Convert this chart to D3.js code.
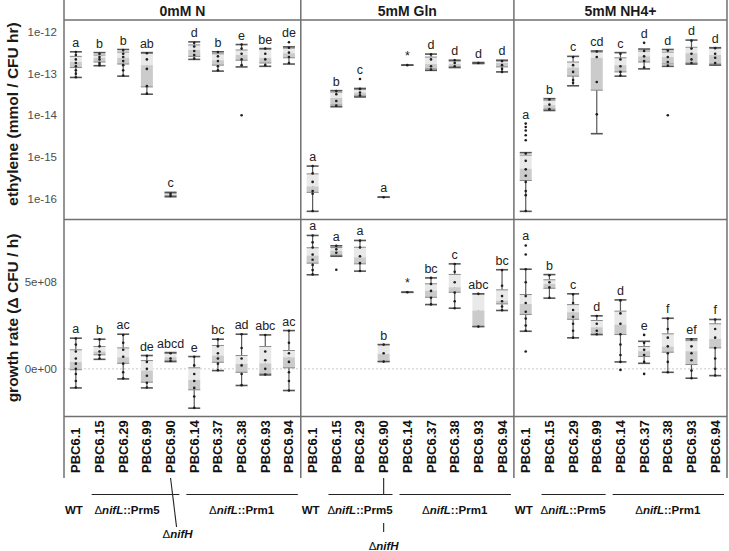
<!DOCTYPE html>
<html><head><meta charset="utf-8">
<script src="https://cdn.jsdelivr.net/npm/d3@7"></script>
<style>body{margin:0;background:#fff} svg{display:block} text{font-family:"Liberation Sans",Arial,sans-serif}</style>
</head><body><svg id="c" width="729" height="551"></svg>
<script>
// ---------------- DATA ----------------
const panels = ["0mM N", "5mM Gln", "5mM NH4+"];
const strains0N  = ["PBC6.1","PBC6.15","PBC6.29","PBC6.99","PBC6.90","PBC6.14","PBC6.37","PBC6.38","PBC6.93","PBC6.94"];
const strainsGln = ["PBC6.1","PBC6.15","PBC6.29","PBC6.90","PBC6.14","PBC6.37","PBC6.38","PBC6.93","PBC6.94"];
const strainsNH4 = ["PBC6.1","PBC6.15","PBC6.29","PBC6.99","PBC6.14","PBC6.37","PBC6.38","PBC6.93","PBC6.94"];

// ethylene boxes: [lower whisker, q1, median, q3, upper whisker]  (mmol / CFU hr)
const eth0N = [
 [8.1e-14,1.4e-13,1.9e-13,2.6e-13,3.35e-13],[1.55e-13,1.9e-13,2.4e-13,2.8e-13,3.2e-13],
 [8.7e-14,1.7e-13,2.4e-13,3.3e-13,3.8e-13],[3.2e-14,4.8e-14,1.6e-13,3.1e-13,3.2e-13],
 [1.1e-16,1.15e-16,1.25e-16,1.35e-16,1.4e-16],[2.2e-13,2.6e-13,3.7e-13,4.9e-13,5.8e-13],
 [1.15e-13,1.6e-13,2.1e-13,3.0e-13,3.35e-13],[1.45e-13,2.1e-13,2.8e-13,3.7e-13,5.0e-13],
 [1.5e-13,1.8e-13,2.4e-13,3.9e-13,4.0e-13],[1.7e-13,2.4e-13,3.1e-13,4.1e-13,4.4e-13]];
const ethGln = [
 [4.9e-17,1.4e-16,1.95e-16,3.9e-16,6.0e-16],[1.6e-14,1.75e-14,2.6e-14,3.6e-14,3.9e-14],
 [2.75e-14,2.9e-14,3.5e-14,4.2e-14,4.4e-14],[1.07e-16,1.07e-16,1.07e-16,1.07e-16,1.07e-16],
 [1.6e-13,1.6e-13,1.6e-13,1.6e-13,1.6e-13],[1.2e-13,1.3e-13,1.7e-13,2.5e-13,2.95e-13],
 [1.4e-13,1.45e-13,1.7e-13,2.0e-13,2.1e-13],[1.75e-13,1.78e-13,1.8e-13,1.82e-13,1.85e-13],
 [1.1e-13,1.45e-13,1.8e-13,2.0e-13,2.1e-13]];
const ethNH4 = [
 [4.9e-17,2.7e-16,5.2e-16,1.1e-15,1.26e-15],[1.3e-14,1.4e-14,1.75e-14,2.3e-14,2.5e-14],
 [5.1e-14,8.7e-14,1.4e-13,1.9e-13,2.6e-13],[3.6e-15,4.0e-14,2.4e-13,3.3e-13,3.5e-13],
 [8.7e-14,1.1e-13,1.6e-13,2.4e-13,3.2e-13],[1.3e-13,1.9e-13,2.6e-13,3.5e-13,3.9e-13],
 [1.5e-13,1.7e-13,2.5e-13,3.3e-13,3.8e-13],[1.7e-13,1.8e-13,3.1e-13,4.3e-13,6.4e-13],
 [1.6e-13,1.7e-13,2.8e-13,4.1e-13,4.2e-13]];

// ethylene individual points
const ethPts0N = [
 [3.3e-13,2.8e-13,2.2e-13,1.8e-13,1.5e-13,1.2e-13,1.0e-13,8.2e-14],[3.0e-13,2.5e-13,2.2e-13,1.8e-13,1.6e-13],
 [3.7e-13,3.0e-13,2.5e-13,2.0e-13,1.6e-13,1.2e-13,9e-14],[3.1e-13,2.2e-13,1.3e-13,5e-14,3.3e-14],
 [1.3e-16,1.15e-16],[5.5e-13,4.5e-13,3.5e-13,2.8e-13,2.3e-13],
 [3.3e-13,2.6e-13,2.0e-13,1.5e-13,1.2e-13],[5.0e-13,4.0e-13,3.0e-13,2.2e-13,1.6e-13,1e-14],
 [4.0e-13,3.0e-13,2.2e-13,1.6e-13],[5.7e-13,4.2e-13,3.2e-13,2.5e-13,1.8e-13]];
const ethPtsGln = [
 [6e-16,4e-16,2.5e-16,1.5e-16,1.3e-16,5e-17],[3.8e-14,3.2e-14,2.2e-14,1.7e-14],
 [7.4e-14,4.3e-14,3.5e-14,3.0e-14],[1.07e-16],[1.6e-13],
 [2.9e-13,2.2e-13,1.5e-13,1.25e-13],[2.1e-13,1.8e-13,1.5e-13],[1.8e-13],
 [2.0e-13,1.6e-13,1.3e-13,1.1e-13]];
const ethPtsNH4 = [
 [6.3e-15,5.2e-15,4.3e-15,3.3e-15,2.5e-15,1.2e-15,8e-16,5e-16,3.5e-16,2.5e-16,1.5e-16,1.2e-16,5e-17],
 [2.4e-14,1.8e-14,1.4e-14],[2.5e-13,1.6e-13,1.1e-13,7e-14,6e-14],[3.4e-13,2.5e-13,6.3e-14,1.05e-14],
 [3.0e-13,2.2e-13,1.5e-13,1.1e-13,9e-14],[5.5e-13,3.5e-13,2.6e-13,2.0e-13,1.4e-13],
 [3.6e-13,2.5e-13,1.9e-13,1.55e-13,1e-14],[6.2e-13,4.0e-13,3.0e-13,2.2e-13,1.8e-13],
 [4.1e-13,3.0e-13,2.4e-13,1.8e-13]];

// growth rate boxes (CFU / h): [lower, q1, median, q3, upper]
const gr0N = [
 [-1.1e8,-0.05e8,0.4e8,1.1e8,1.77e8],[0.55e8,0.81e8,1.0e8,1.29e8,1.71e8],
 [-0.58e8,0.32e8,0.67e8,1.21e8,2.0e8],[-1.1e8,-0.77e8,-0.1e8,0.48e8,0.77e8],
 [0.42e8,0.45e8,0.67e8,0.9e8,0.94e8],[-2.27e8,-1.21e8,-0.64e8,0.06e8,0.71e8],
 [-0.1e8,0.38e8,0.77e8,1.35e8,1.71e8],[-0.96e8,-0.2e8,0.29e8,0.77e8,2.0e8],
 [-0.35e8,-0.29e8,0.32e8,1.29e8,1.96e8],[-1.25e8,0.06e8,0.67e8,1.06e8,2.21e8]];
const grGln = [
 [5.43e8,6.1e8,6.54e8,6.99e8,7.7e8],[6.5e8,6.56e8,6.83e8,7.0e8,7.1e8],
 [5.64e8,6.06e8,6.44e8,7.02e8,7.41e8],[0.42e8,0.42e8,0.87e8,1.4e8,1.4e8],
 [4.42e8,4.42e8,4.42e8,4.42e8,4.42e8],[3.71e8,4.13e8,4.52e8,4.91e8,5.25e8],
 [3.5e8,4.42e8,4.71e8,5.45e8,6.06e8],[2.44e8,2.44e8,3.37e8,4.33e8,4.33e8],
 [3.37e8,3.75e8,3.94e8,4.56e8,5.72e8]];
const grNH4 = [
 [2.17e8,3.14e8,3.75e8,4.29e8,5.75e8],[4.08e8,4.65e8,4.9e8,5.14e8,5.44e8],
 [1.79e8,2.86e8,3.27e8,3.71e8,4.33e8],[1.98e8,1.98e8,2.4e8,2.79e8,3.06e8],
 [0.4e8,1.98e8,2.56e8,3.33e8,3.98e8],[0.32e8,0.71e8,1.02e8,1.29e8,1.59e8],
 [-0.2e8,0.96e8,1.29e8,2.02e8,2.92e8],[-0.54e8,0.25e8,1.02e8,1.63e8,1.73e8],
 [-0.39e8,1.21e8,1.73e8,2.6e8,2.85e8]];

const grPts0N = [
 [1.75e8,1.4e8,1.0e8,0.6e8,0.3e8,0.0,-0.3e8,-0.7e8,-1.08e8],[1.7e8,1.3e8,1.0e8,0.8e8,0.6e8],
 [1.95e8,1.5e8,1.1e8,0.7e8,0.3e8,-0.2e8,-0.55e8],[0.75e8,0.4e8,0.0,-0.4e8,-0.8e8,-1.08e8],
 [0.9e8,0.6e8,0.45e8],[0.7e8,0.2e8,-0.3e8,-0.7e8,-1.1e8,-1.6e8,-2.25e8],
 [1.7e8,1.3e8,0.9e8,0.6e8,0.3e8,-0.08e8],[2.0e8,1.2e8,0.6e8,0.2e8,-0.3e8,-0.94e8],
 [1.95e8,1.0e8,0.5e8,0.0,-0.33e8],[2.2e8,1.5e8,0.9e8,0.4e8,-0.2e8,-0.7e8,-1.25e8]];
const grPtsGln = [
 [7.7e8,7.3e8,7.0e8,6.6e8,6.3e8,6.0e8,5.7e8,5.45e8],[7.1e8,6.9e8,6.7e8,5.72e8],
 [7.4e8,7.0e8,6.5e8,6.1e8,5.65e8],[1.4e8,0.9e8,0.42e8],[4.42e8],
 [5.25e8,4.9e8,4.5e8,4.1e8,3.72e8],[6.05e8,5.6e8,5.0e8,4.4e8,3.9e8,3.5e8],[4.33e8,2.44e8],
 [5.7e8,4.8e8,4.2e8,3.9e8,3.6e8,3.38e8]];
const grPtsNH4 = [
 [7.12e8,6.6e8,5.75e8,5.0e8,4.2e8,3.8e8,3.3e8,2.9e8,2.5e8,2.2e8,1.0e8],[5.4e8,5.0e8,4.7e8,4.1e8],
 [4.3e8,3.8e8,3.4e8,3.0e8,2.6e8,2.2e8,1.8e8],[3.05e8,2.6e8,2.2e8,2.0e8],
 [3.95e8,3.2e8,2.6e8,2.0e8,1.4e8,0.8e8,0.4e8,-0.06e8],[1.96e8,1.5e8,1.1e8,0.8e8,0.4e8,-0.29e8],
 [2.9e8,2.3e8,1.8e8,1.3e8,0.9e8,0.4e8,-0.2e8],[1.7e8,1.3e8,0.9e8,0.5e8,-0.1e8,-0.54e8],
 [2.85e8,2.3e8,1.8e8,1.2e8,0.6e8,0.0,-0.38e8]];

// significance letters
const ethLetters0N  = ["a","b","b","ab","c","d","b","e","be","de"];
const ethLettersGln = ["a","b","c","a","*","d","d","d","d"];
const ethLettersNH4 = ["a","b","c","cd","c","d","d","d","d"];
const grLetters0N  = ["a","b","ac","de","abcd","e","bc","ad","abc","ac"];
const grLettersGln = ["a","a","a","b","*","bc","c","abc","bc"];
const grLettersNH4 = ["a","b","c","d","d","e","f","ef","f"];

// axis ticks
const ethTicks = [1e-12,1e-13,1e-14,1e-15,1e-16];
const ethTickLabels = ["1e-12","1e-13","1e-14","1e-15","1e-16"];
const grTicks = [0, 5e8];
const grTickLabels = ["0e+00","5e+08"];

// genotype groups below the x labels: [label, first strain, last strain, underline]
const geno0N  = [["WT","PBC6.1","PBC6.1",false],["Prm5","PBC6.15","PBC6.90",true],["Prm1","PBC6.14","PBC6.94",true]];
const genoGln = [["WT","PBC6.1","PBC6.1",false],["Prm5","PBC6.15","PBC6.90",true],["Prm1","PBC6.14","PBC6.94",true]];
const genoNH4 = [["WT","PBC6.1","PBC6.1",false],["Prm5","PBC6.15","PBC6.99",true],["Prm1","PBC6.14","PBC6.94",true]];
const nifHStrain = "PBC6.90";

// ---------------- DRAW ----------------
const strainsBy = [strains0N, strainsGln, strainsNH4];
const ethBy = [eth0N, ethGln, ethNH4], ethPtsBy = [ethPts0N, ethPtsGln, ethPtsNH4];
const grBy = [gr0N, grGln, grNH4], grPtsBy = [grPts0N, grPtsGln, grPtsNH4];
const ethLetBy = [ethLetters0N, ethLettersGln, ethLettersNH4];
const grLetBy = [grLetters0N, grLettersGln, grLettersNH4];
const genoBy = [geno0N, genoGln, genoNH4];

const L = 64, R = 727, T = 20, MID = 219.5, B = 416.5, LAB = 478;
const keys = [];
panels.forEach((p,i) => strainsBy[i].forEach(s => keys.push(i + "|" + s)));
const x = d3.scaleBand().domain(keys).range([L, R]);
const bw = x.bandwidth();
const xc = (i, s) => x(i + "|" + s) + bw / 2;

const yE = d3.scaleLog().domain([Math.pow(10,-16.506), Math.pow(10,-11.711)]).range([MID, T]);
const yG = d3.scaleLinear().domain([-2.75e8, 8.62e8]).range([B, MID]);

const svg = d3.select("#c");
const pEdges = panels.map((p,i) => [x(i + "|" + strainsBy[i][0]), x(i + "|" + strainsBy[i][strainsBy[i].length-1]) + bw]);

// zero line
svg.append("line").attr("x1", L).attr("x2", R).attr("y1", yG(0)).attr("y2", yG(0))
  .attr("stroke", "#c4c4c4").attr("stroke-width", 0.9).attr("stroke-dasharray", "2,2");

// boxes
function drawBoxes(i, yS, stats, pts, letters) {
  const g = svg.append("g");
  const bwid = 12, cap = 12;
  strainsBy[i].forEach((s, j) => {
    const cx = xc(i, s);
    const [lo, q1, md, q3, hi] = stats[j];
    g.append("line").attr("x1", cx).attr("x2", cx).attr("y1", yS(lo)).attr("y2", yS(hi))
      .attr("stroke", "#5a5a5a").attr("stroke-width", 1.2);
    g.append("rect").attr("x", cx - bwid/2).attr("width", bwid)
      .attr("y", yS(q3)).attr("height", Math.max(0, yS(md) - yS(q3))).attr("fill", "#e9e9e9");
    g.append("rect").attr("x", cx - bwid/2).attr("width", bwid)
      .attr("y", yS(md)).attr("height", Math.max(0, yS(q1) - yS(md))).attr("fill", "#cbcbcb");
    [q1, q3].forEach(v => g.append("line").attr("x1", cx - cap/2).attr("x2", cx + cap/2)
      .attr("y1", yS(v)).attr("y2", yS(v)).attr("stroke", "#8a8a8a").attr("stroke-width", 1));
    [lo, hi].forEach(v => g.append("line").attr("x1", cx - cap/2).attr("x2", cx + cap/2)
      .attr("y1", yS(v)).attr("y2", yS(v)).attr("stroke", "#555").attr("stroke-width", 1.6));
    pts[j].forEach(v => g.append("circle").attr("cx", cx).attr("cy", yS(v)).attr("r", 1.3).attr("fill", "#1e1e1e"));
    const top = Math.max(hi, d3.max(pts[j]));
    g.append("text").attr("x", cx).attr("y", yS(top) - 5).attr("text-anchor", "middle")
      .attr("font-size", 12.5).attr("fill", "#222").text(letters[j]);
  });
}
panels.forEach((p, i) => {
  drawBoxes(i, yE, ethBy[i], ethPtsBy[i], ethLetBy[i]);
  drawBoxes(i, yG, grBy[i], grPtsBy[i], grLetBy[i]);
});

// frame lines
const frame = svg.append("g").attr("stroke", "#707070").attr("stroke-width", 1.5);
[T, MID, B].forEach(yv => frame.append("line").attr("x1", L).attr("x2", R).attr("y1", yv).attr("y2", yv));
[L, pEdges[0][1], pEdges[1][1], R].forEach(xv => frame.append("line").attr("x1", xv).attr("x2", xv).attr("y1", 0).attr("y2", LAB));

// strip titles
panels.forEach((p, i) => svg.append("text").attr("x", (pEdges[i][0] + pEdges[i][1]) / 2).attr("y", 15.5)
  .attr("text-anchor", "middle").attr("font-size", 14).attr("font-weight", "bold").attr("fill", "#1a1a1a").text(p));

// y axes
const axE = svg.append("g").attr("transform", `translate(${L},0)`)
  .call(d3.axisLeft(yE).tickValues(ethTicks).tickFormat((d, k) => ethTickLabels[k]).tickSize(0).tickPadding(7));
const axG = svg.append("g").attr("transform", `translate(${L},0)`)
  .call(d3.axisLeft(yG).tickValues(grTicks).tickFormat((d, k) => grTickLabels[k]).tickSize(0).tickPadding(7));
[axE, axG].forEach(a => {
  a.select(".domain").remove();
  a.selectAll("text").attr("font-size", 11.5).attr("fill", "#4d4d4d").attr("font-family", '"Liberation Sans",Arial,sans-serif');
});

// y titles
svg.append("text").attr("transform", "translate(18,114) rotate(-90)").attr("text-anchor", "middle")
  .attr("font-size", 15.5).attr("font-weight", "bold").attr("fill", "#1a1a1a").text("ethylene (mmol / CFU hr)");
svg.append("text").attr("transform", "translate(18,318) rotate(-90)").attr("text-anchor", "middle")
  .attr("font-size", 15.5).attr("font-weight", "bold").attr("fill", "#1a1a1a").text("growth rate (\u0394 CFU / h)");

// x labels (rotated)
panels.forEach((p, i) => strainsBy[i].forEach(s => {
  svg.append("text").attr("transform", `translate(${xc(i, s)},473) rotate(-90)`)
    .attr("dominant-baseline", "central").attr("font-size", 13).attr("font-weight", "bold")
    .attr("fill", "#111").text(s);
}));

// genotype annotation
function genoLabel(g, cx, y, kind) {
  const t = g.append("text").attr("x", cx).attr("y", y).attr("text-anchor", "middle")
    .attr("font-size", 11.5).attr("font-weight", "bold").attr("fill", "#111");
  if (kind === "WT") { t.text("WT"); return; }
  t.append("tspan").attr("font-weight", "normal").text("\u0394");
  t.append("tspan").attr("font-style", "italic").text("nifL");
  t.append("tspan").text("::" + kind);
}
function nifHLabel(g, cx, y) {
  const t = g.append("text").attr("x", cx).attr("y", y).attr("text-anchor", "middle")
    .attr("font-size", 11.5).attr("font-weight", "bold").attr("fill", "#111");
  t.append("tspan").attr("font-weight", "normal").text("\u0394");
  t.append("tspan").attr("font-style", "italic").text("nifH");
}
const ann = svg.append("g");
const lineY = 494.5, textY = 513.5;
genoBy.forEach((groups, i) => {
  groups.forEach(([lab, a, b, ul]) => {
    const x0 = x(i + "|" + a), x1 = x(i + "|" + b) + bw;
    let cx = (x0 + x1) / 2;
    if (ul) {
      ann.append("line").attr("x1", x0 + 4).attr("x2", x1 - 3).attr("y1", lineY).attr("y2", lineY)
        .attr("stroke", "#222").attr("stroke-width", 1.2);
    } else cx = xc(i, a) - 2;
    if (i === 0 && lab === "Prm5") cx -= 8;
    genoLabel(ann, cx, textY, lab);
  });
  if (strainsBy[i].includes(nifHStrain)) {
    const hx = xc(i, nifHStrain);
    if (i === 0) {
      ann.append("line").attr("x1", hx).attr("x2", hx + 6).attr("y1", LAB).attr("y2", 527)
        .attr("stroke", "#222").attr("stroke-width", 1.1);
      nifHLabel(ann, hx + 7, 538);
    } else {
      ann.append("line").attr("x1", hx).attr("x2", hx).attr("y1", LAB).attr("y2", lineY)
        .attr("stroke", "#222").attr("stroke-width", 1.1);
      ann.append("line").attr("x1", hx).attr("x2", hx).attr("y1", 523).attr("y2", 532)
        .attr("stroke", "#222").attr("stroke-width", 1.1);
      nifHLabel(ann, hx, 550);
    }
  }
});
</script></body></html>
